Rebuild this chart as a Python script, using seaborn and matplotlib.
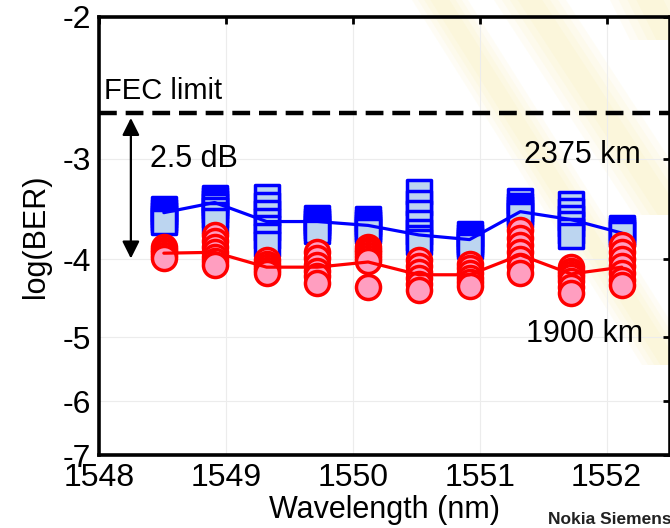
import numpy as np
import pandas as pd
import matplotlib
matplotlib.use('Agg')
import matplotlib.pyplot as plt
from matplotlib.patches import Polygon
import seaborn as sns

# channel wavelengths (nm), 50 GHz grid
wavelength = [1548.51, 1548.91, 1549.32, 1549.72, 1550.12,
              1550.52, 1550.92, 1551.32, 1551.72, 1552.12]

# log(BER) samples per channel, 2375 km
ber_2375 = [
    [-3.46, -3.49, -3.52, -3.55, -3.57, -3.59],
    [-3.36, -3.38, -3.40, -3.43, -3.47, -3.52, -3.58],
    [-3.35, -3.42, -3.50, -3.58, -3.66, -3.74, -3.83],
    [-3.55, -3.58, -3.61, -3.64, -3.66, -3.69],
    [-3.56, -3.59, -3.62, -3.65, -3.67, -3.69],
    [-3.30, -3.40, -3.50, -3.60, -3.70, -3.76, -3.81],
    [-3.72, -3.75, -3.78, -3.81, -3.83, -3.85],
    [-3.39, -3.43, -3.46, -3.49, -3.52],
    [-3.41, -3.48, -3.55, -3.62, -3.69, -3.74],
    [-3.66, -3.68, -3.70, -3.72],
]
mean_2375 = [-3.50, -3.40, -3.59, -3.59, -3.63, -3.73, -3.78, -3.49, -3.57, -3.71]

# log(BER) samples per channel, 1900 km
ber_1900 = [
    [-3.86, -3.89, -3.92, -3.95, -3.98],
    [-3.73, -3.80, -3.86, -3.92, -3.97, -4.02, -4.07],
    [-4.01, -4.05, -4.09, -4.12, -4.16],
    [-3.92, -3.99, -4.06, -4.13, -4.20, -4.28],
    [-3.86, -3.89, -3.92, -3.95, -3.98, -4.02, -4.33],
    [-4.01, -4.08, -4.15, -4.22, -4.29, -4.37],
    [-4.05, -4.10, -4.16, -4.22, -4.27, -4.32],
    [-3.68, -3.76, -3.84, -3.92, -4.00, -4.08, -4.16],
    [-4.09, -4.13, -4.17, -4.21, -4.26, -4.33, -4.40],
    [-3.84, -3.92, -4.00, -4.08, -4.16, -4.24, -4.31],
]
mean_1900 = [-3.93, -3.92, -4.09, -4.09, -4.03, -4.18, -4.18, -3.95, -4.17, -4.09]

fec_limit = -2.63
x_ticks = [1548, 1549, 1550, 1551, 1552]
y_ticks = [-2, -3, -4, -5, -6, -7]


def to_long(samples):
    rows = []
    for wl, vals in zip(wavelength, samples):
        for v in vals:
            rows.append((wl, v))
    return pd.DataFrame(rows, columns=['wavelength', 'logber'])


df_2375 = to_long(ber_2375)
df_1900 = to_long(ber_1900)

sns.set_theme(style='white')
plt.rcParams['font.family'] = ['Liberation Sans', 'DejaVu Sans']
plt.rcParams['axes.unicode_minus'] = False
plt.rcParams['text.color'] = 'black'
plt.rcParams['axes.labelcolor'] = 'black'

fig = plt.figure(figsize=(6.7, 5.28), dpi=100)

# faint, soft yellow slide background bands (upper right), drawn behind the axes
W, H = 670.0, 528.0
bands = [
    ((440, 0), (670, 365), 28),
    ((530, 0), (670, 215), 36),
    ((650, 0), (670, 40), 40),
]
for (x0, y0), (x1, y1), half in bands:
    for k in range(4):
        hw = half * (1 - k * 0.22)
        pts = [(x0 - hw, y0), (x0 + hw, y0), (x1 + hw, y1), (x1 - hw, y1)]
        fig.patches.append(Polygon([(x / W, 1 - y / H) for x, y in pts], closed=True,
                                   transform=fig.transFigure, facecolor='#f7dc5c',
                                   edgecolor='none', alpha=0.06, zorder=-5))

ax = fig.add_axes([0.148, 0.138, 0.852, 0.830])
ax.set_facecolor('none')
ax.set_zorder(2)

sns.scatterplot(data=df_2375, x='wavelength', y='logber', marker='s', s=280,
                color='#bcd5f0', edgecolor='#0000ff', linewidth=2.5, zorder=3, ax=ax)
sns.lineplot(x=wavelength, y=mean_2375, color='#0000ff', lw=2.3, zorder=4, ax=ax)
sns.scatterplot(data=df_1900, x='wavelength', y='logber', marker='o', s=300,
                color='#ff9ec0', edgecolor='#ff0000', linewidth=2.5, zorder=5, ax=ax)
sns.lineplot(x=wavelength, y=mean_1900, color='#ff0000', lw=2.3, zorder=6, ax=ax)

# BER axis: position proportional to log(-log(BER))
ax.set_yscale('function', functions=(lambda y: -np.log10(np.clip(-y, 1e-6, None)),
                                     lambda u: -10.0 ** (-u)))
ax.set_xlim(1548, 1552.5)
ax.set_ylim(-7, -2)
ax.set_xticks(x_ticks, [str(t) for t in x_ticks])
ax.set_yticks(y_ticks, [str(t) for t in y_ticks])
ax.minorticks_off()

ax.axhline(fec_limit, color='black', lw=3.2, dashes=(4, 2), zorder=7)
ax.text(1548.04, fec_limit + 0.06, 'FEC limit', fontsize=21, ha='left', va='bottom')
ax.annotate('', xy=(1548.25, -2.67), xytext=(1548.25, -3.99),
            arrowprops=dict(arrowstyle='<|-|>', color='black', lw=1.6,
                            mutation_scale=26, shrinkA=0, shrinkB=0))
ax.text(1548.4, -3.0, '2.5 dB', fontsize=22, ha='left', va='center')
ax.text(1552.27, -2.97, '2375 km', fontsize=22, ha='right', va='center')
ax.text(1552.29, -4.95, '1900 km', fontsize=22, ha='right', va='center')

ax.grid(True, color='#ececec', lw=0.8)
ax.set_axisbelow(True)
for sp in ax.spines.values():
    sp.set_linewidth(2.6)
    sp.set_color('black')
ax.tick_params(direction='in', length=5, width=2, top=True, right=True,
               labelsize=23, pad=6, colors='black')
ax.set_xlabel('Wavelength (nm)', fontsize=22, labelpad=1)
ax.set_ylabel('log(BER)', fontsize=22, labelpad=8)

fig.text(0.818, 0.030, 'Nokia Siemens Networks', fontsize=12.5, fontweight='bold',
         color='#222222', ha='left', va='top')

fig.savefig('out.png', dpi=100)
